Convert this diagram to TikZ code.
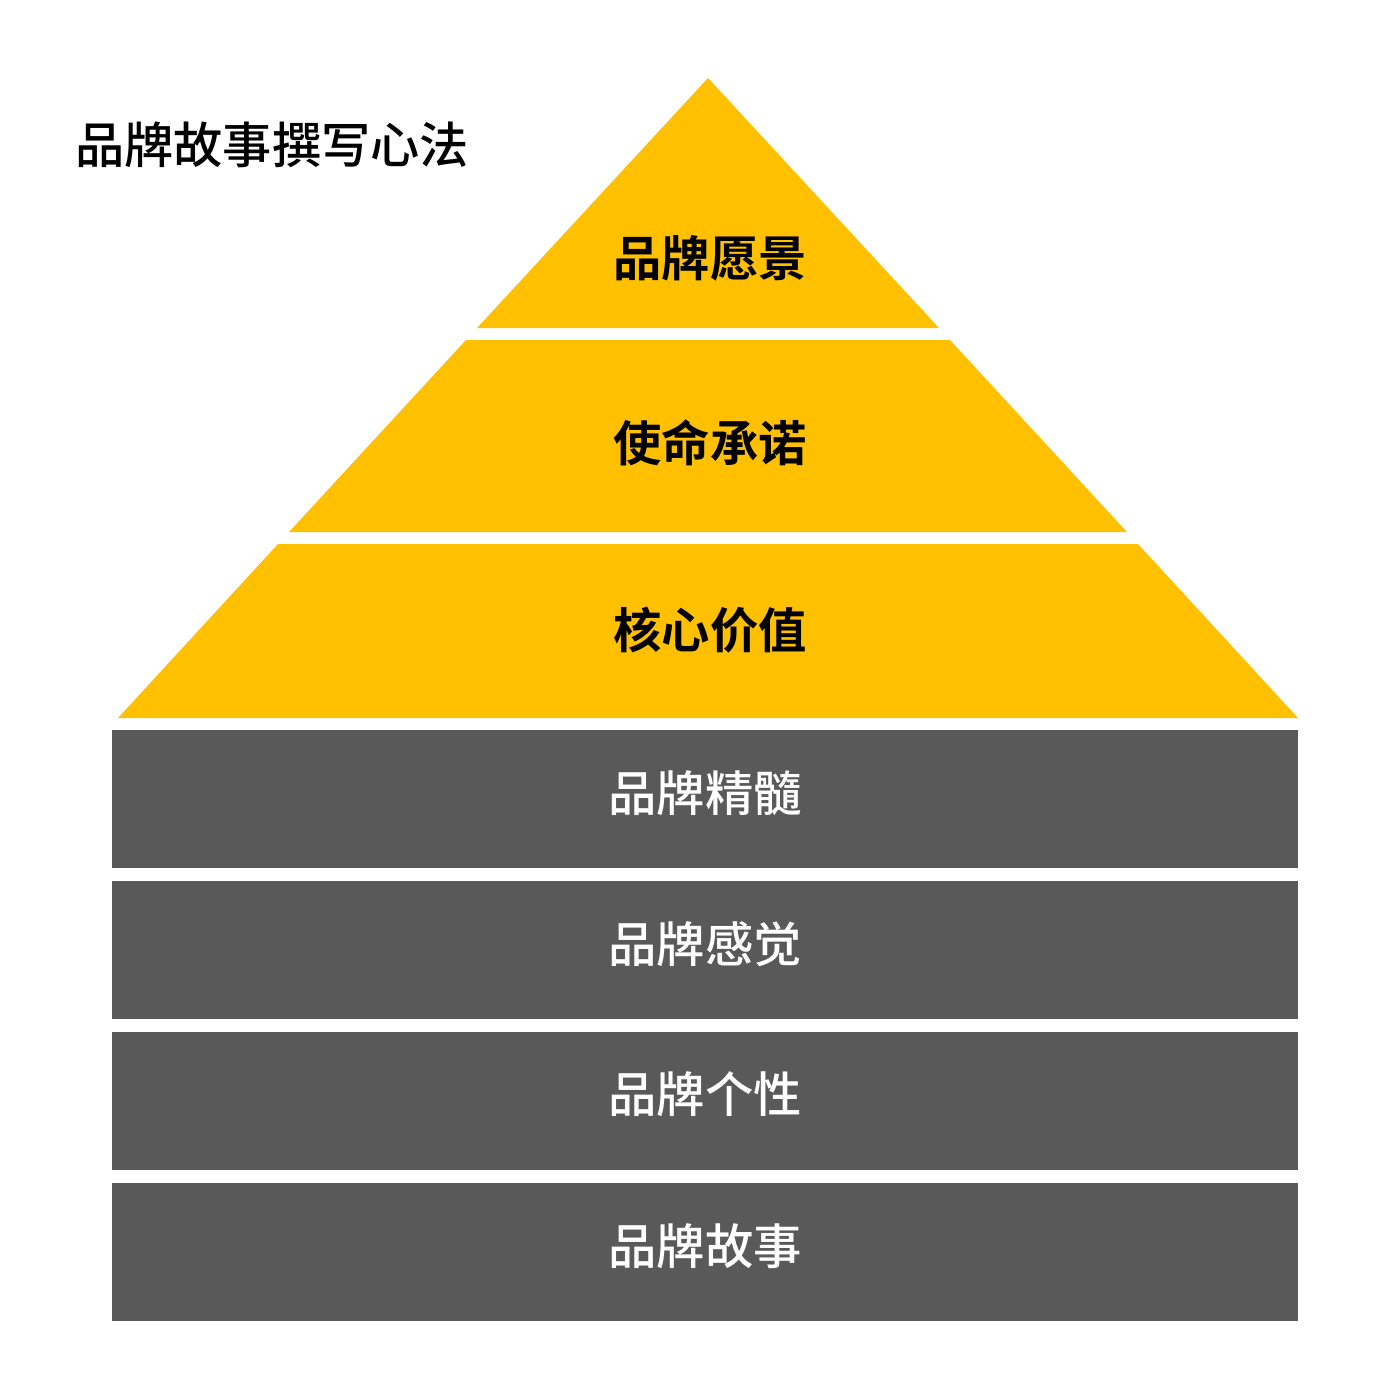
\documentclass[tikz,border=0pt]{standalone}
\usepackage{fontspec}
\newfontfamily\cjk[BoldFont={Noto Sans CJK SC Bold}]{Noto Sans CJK SC}
\newfontfamily\cjkmed{Noto Sans CJK SC Medium}
\definecolor{pyramidgold}{HTML}{FFC000}
\definecolor{basegray}{HTML}{595959}

\begin{document}
\begin{tikzpicture}[x=0.02cm, y=-0.02cm,
  tier/.style={fill=pyramidgold, draw=none},
  tierlabel/.style={font=\cjk\bfseries\fontsize{27.5}{30}\selectfont, text=black, inner sep=0pt},
  baseblock/.style={fill=basegray, draw=none, rectangle, inner sep=0pt, minimum width=23.72cm, minimum height=2.76cm},
  baselabel/.style={text=white, inner sep=0pt, yshift=0.12cm, font=\cjkmed\fontsize{27.5}{30}\selectfont}]

  % canvas
  \useasboundingbox (0,0) rectangle (1400,1400);

  % title
  \node [anchor=west, font=\cjkmed\fontsize{28}{30}\selectfont, inner sep=0pt] (title) at (75,145) {品牌故事撰写心法};

  % pyramid tiers (top to bottom)
  \fill [tier] (708,78) -- (939,328) -- (477,328) -- cycle;
  \fill [tier] (466,340) -- (950,340) -- (1127,532) -- (289,532) -- cycle;
  \fill [tier] (278,544) -- (1138,544) -- (1298,718) -- (118,718) -- cycle;

  \node [tierlabel] (vision) at (710,258) {品牌愿景};
  \node [tierlabel] (mission) at (710,443) {使命承诺};
  \node [tierlabel] (values) at (710,630) {核心价值};

  % base blocks
  \node [baseblock] (essence) at (705,799) {};
  \node [baseblock] (feeling) at (705,950) {};
  \node [baseblock] (persona) at (705,1100.5) {};
  \node [baseblock] (story) at (705,1252) {};

  \node [baselabel] (essencetext) at (essence) {品牌精髓};
  \node [baselabel] (feelingtext) at (feeling) {品牌感觉};
  \node [baselabel] (personatext) at (persona) {品牌个性};
  \node [baselabel] (storytext) at (story) {品牌故事};
\end{tikzpicture}
\end{document}
